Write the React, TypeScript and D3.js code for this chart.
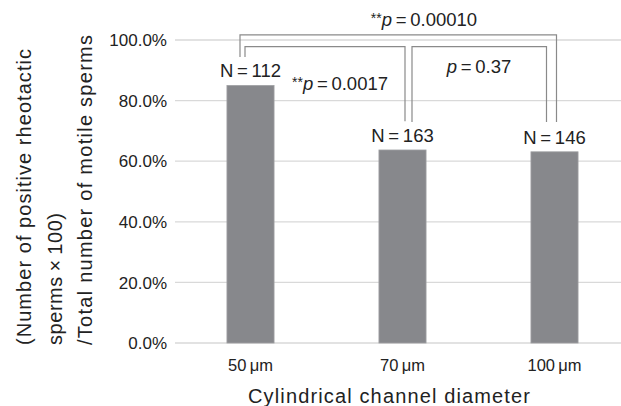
import React from 'react'
import * as d3 from 'd3'

// Chart data
const categories = ['50\u2009μm', '70\u2009μm', '100\u2009μm']
const ratios = [0.85, 0.637, 0.631]
const counts = ['N\u2009=\u2009112', 'N\u2009=\u2009163', 'N\u2009=\u2009146']
const yTicks = [0, 0.2, 0.4, 0.6, 0.8, 1.0]
const yTitleLines = [
  '(Number of positive rheotactic',
  'sperms\u2009×\u2009100)',
  '/Total number of motile sperms',
]
const xTitle = 'Cylindrical channel diameter'

// significance brackets: from bar index, to bar index, label
const bracketFrom = [0, 0, 1]
const bracketTo = [2, 1, 2]
const bracketStars = ['**', '**', '']
const bracketValues = ['0.00010', '0.0017', '0.37']

const W = 621
const H = 406
const margin = { left: 174.5, top: 40, bottom: 63 }
const FONT = '"Liberation Sans", Arial, sans-serif'

function App() {
  const x = d3
    .scaleBand<string>()
    .domain(categories)
    .range([margin.left, margin.left + 3 * 152])
    .paddingInner(0.69)
    .paddingOuter(0.345)
  const y = d3.scaleLinear().domain([0, 1]).range([H - margin.bottom, margin.top])
  const fmt = d3.format('.1%')
  const cx = (i: number) => (x(categories[i]) as number) + x.bandwidth() / 2

  // bracket layout (offsets from bar centres, heights in axis units)
  const layout = [
    { dl: -10.5, dr: 2, top: 1.017, legL: 0.944, legR: 0.729, lx: 424, ly: 1.046 },
    { dl: -5.5, dr: 2.5, top: 0.978, legL: 0.944, legR: 0.732, lx: 340, ly: 0.835 },
    { dl: 9.5, dr: -8, top: 0.978, legL: 0.729, legR: 0.729, lx: 479, ly: 0.891 },
  ]
  // rendered lengths of the y title lines
  const yTitleLen = [296, 132, 310]

  return (
    <svg
      width={W}
      height={H}
      style={{ position: 'absolute', left: 0, top: 0, background: '#fff' }}
      fontFamily={FONT}
    >
      {/* gridlines */}
      {yTicks.map(t => (
        <g key={t}>
          <line x1={175} x2={W} y1={y(t)} y2={y(t)} stroke="#d9d9d9" strokeWidth={1.3} />
          <text x={167} y={y(t)} dy="0.36em" textAnchor="end" fontSize={17} fill="#222">
            {fmt(t)}
          </text>
        </g>
      ))}

      {/* bars */}
      {ratios.map((v, i) => (
        <rect
          key={i}
          x={x(categories[i])}
          y={y(v)}
          width={x.bandwidth()}
          height={y(0) - y(v)}
          fill="#87888c"
          stroke="#a0a1a4"
          strokeWidth={0.8}
        />
      ))}

      {/* N labels */}
      {counts.map((c, i) => (
        <text key={c} x={cx(i)} y={y(ratios[i]) - 8} textAnchor="middle" fontSize={18.5} fill="#222">
          {c}
        </text>
      ))}

      {/* x tick labels */}
      {categories.map((c, i) => (
        <text key={c} x={cx(i)} y={371} textAnchor="middle" fontSize={16.5} fill="#222">
          {c}
        </text>
      ))}

      {/* brackets */}
      {bracketFrom.map((f, k) => {
        const L = layout[k]
        const xl = cx(f) + L.dl
        const xr = cx(bracketTo[k]) + L.dr
        return (
          <g key={k}>
            <path
              d={`M${xl},${y(L.legL)}V${y(L.top)}H${xr}V${y(L.legR)}`}
              fill="none"
              stroke="#8a8a8a"
              strokeWidth={1.2}
            />
            <text x={L.lx} y={y(L.ly)} textAnchor="middle" fontSize={18.5} fill="#222">
              {bracketStars[k] && (
                <tspan fontSize={14} dy={-3}>
                  {bracketStars[k]}
                </tspan>
              )}
              <tspan fontStyle="italic" dy={bracketStars[k] ? 3 : 0}>
                p
              </tspan>
              <tspan>{'\u2009=\u2009' + bracketValues[k]}</tspan>
            </text>
          </g>
        )
      })}

      {/* axis titles */}
      {yTitleLines.map((t, i) => (
        <text
          key={t}
          transform={`translate(${31 + i * 30.5},345) rotate(-90)`}
          fontSize={20}
          textLength={yTitleLen[i]}
          lengthAdjust="spacing"
          fill="#222"
        >
          {t}
        </text>
      ))}
      <text
        x={248}
        y={403}
        fontSize={20}
        textLength={282}
        lengthAdjust="spacing"
        fill="#222"
      >
        {xTitle}
      </text>
    </svg>
  )
}

export default App
